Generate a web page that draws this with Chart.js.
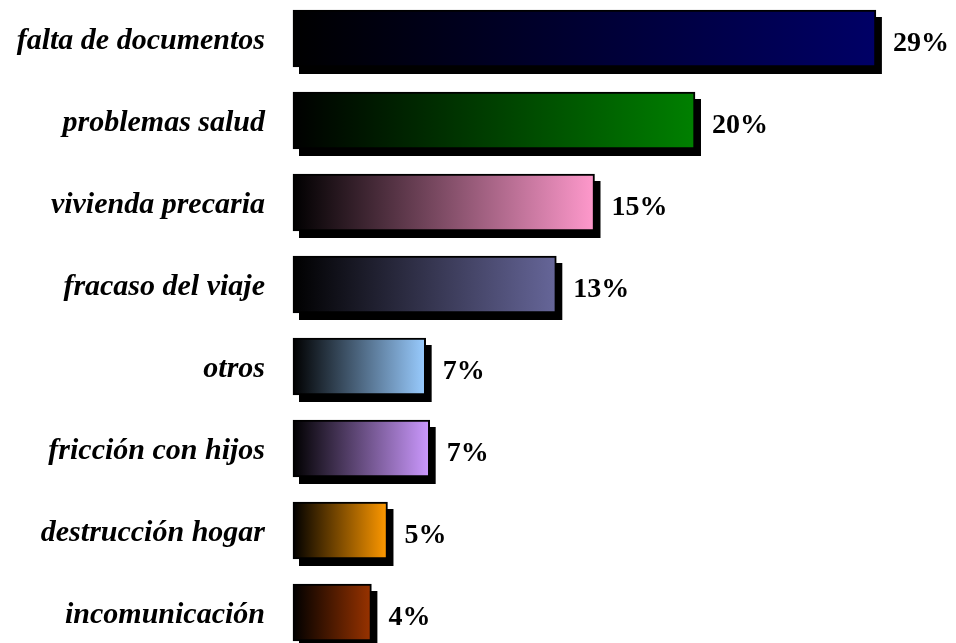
<!DOCTYPE html>
<html>
<head>
<meta charset="utf-8">
<script src="https://cdn.jsdelivr.net/npm/chart.js@4/dist/chart.umd.min.js"></script>
<style>
  html, body { margin: 0; padding: 0; background: #fff; }
  #chart { display: block; }
</style>
</head>
<body>
<canvas id="chart" width="956" height="643"></canvas>
<script>
// datos
const categories = ['falta de documentos', 'problemas salud', 'vivienda precaria', 'fracaso del viaje',
                    'otros', 'fricción con hijos', 'destrucción hogar', 'incomunicación'];
const values     = [29, 20, 15, 13.1, 6.6, 6.8, 4.7, 3.9];
const pctLabels  = ['29%', '20%', '15%', '13%', '7%', '7%', '5%', '4%'];

// color final de cada degradado (desde negro)
const COLORS = ['#000066', '#008000', '#FF99CC', '#666699', '#99CCFF', '#CC99FF', '#FF9900', '#993300'];
const SERIF = "'Liberation Serif', 'Times New Roman', serif";

// sombra negra desplazada detrás de cada barra (la barra recorta su propio dibujo)
const shadowPlugin = {
  id: 'barShadow',
  beforeDatasetsDraw(chart) {
    const ctx = chart.ctx;
    const meta = chart.getDatasetMeta(0);
    ctx.save();
    ctx.fillStyle = '#000';
    meta.data.forEach(bar => {
      const { x, y, base, height } = bar.getProps(['x', 'y', 'base', 'height'], true);
      ctx.fillRect(base + 6, y - height / 2 + 7, x - base, height);
    });
    ctx.restore();
  }
};

// porcentajes a la derecha de la barra
const valueLabels = {
  id: 'valueLabels',
  afterDatasetsDraw(chart) {
    const ctx = chart.ctx;
    const meta = chart.getDatasetMeta(0);
    ctx.save();
    ctx.font = 'bold 28px ' + SERIF;
    ctx.fillStyle = '#000';
    ctx.textAlign = 'left';
    ctx.textBaseline = 'middle';
    meta.data.forEach((bar, i) => {
      ctx.fillText(pctLabels[i], bar.x + 17, bar.y + 5);
    });
    ctx.restore();
  }
};

function gradientFor(ctx) {
  const chart = ctx.chart;
  const i = ctx.dataIndex;
  if (!chart.chartArea || i === undefined) return COLORS[i] || '#000';
  const x = chart.scales.x;
  const x0 = x.getPixelForValue(0);
  const x1 = x.getPixelForValue(values[i]);
  const g = chart.ctx.createLinearGradient(x0, 0, x1, 0);
  g.addColorStop(0, '#000000');
  g.addColorStop(1, COLORS[i]);
  return g;
}

new Chart(document.getElementById('chart'), {
  type: 'bar',
  data: {
    labels: categories,
    datasets: [{
      data: values,
      backgroundColor: gradientFor,
      borderColor: '#000',
      borderWidth: 2,
      borderSkipped: false,
      barThickness: 57,
      clip: false
    }]
  },
  options: {
    indexAxis: 'y',
    responsive: false,
    animation: false,
    layout: { padding: { top: 38.5, bottom: 30.5, left: 0, right: 60 } },
    plugins: { legend: { display: false }, tooltip: { enabled: false } },
    scales: {
      x: { display: false, min: 0, max: 30 },
      y: {
        offset: false,
        grid: { display: false, drawTicks: false },
        border: { display: false },
        afterFit(scale) {
          scale.width = 293;
          scale.paddingTop = 0;
          scale.paddingBottom = 0;
        },
        ticks: {
          padding: 28,
          labelOffset: 3,
          color: '#000',
          font: { family: SERIF, size: 30, style: 'italic', weight: 'bold' }
        }
      }
    }
  },
  plugins: [shadowPlugin, valueLabels]
});
</script>
</body>
</html>
